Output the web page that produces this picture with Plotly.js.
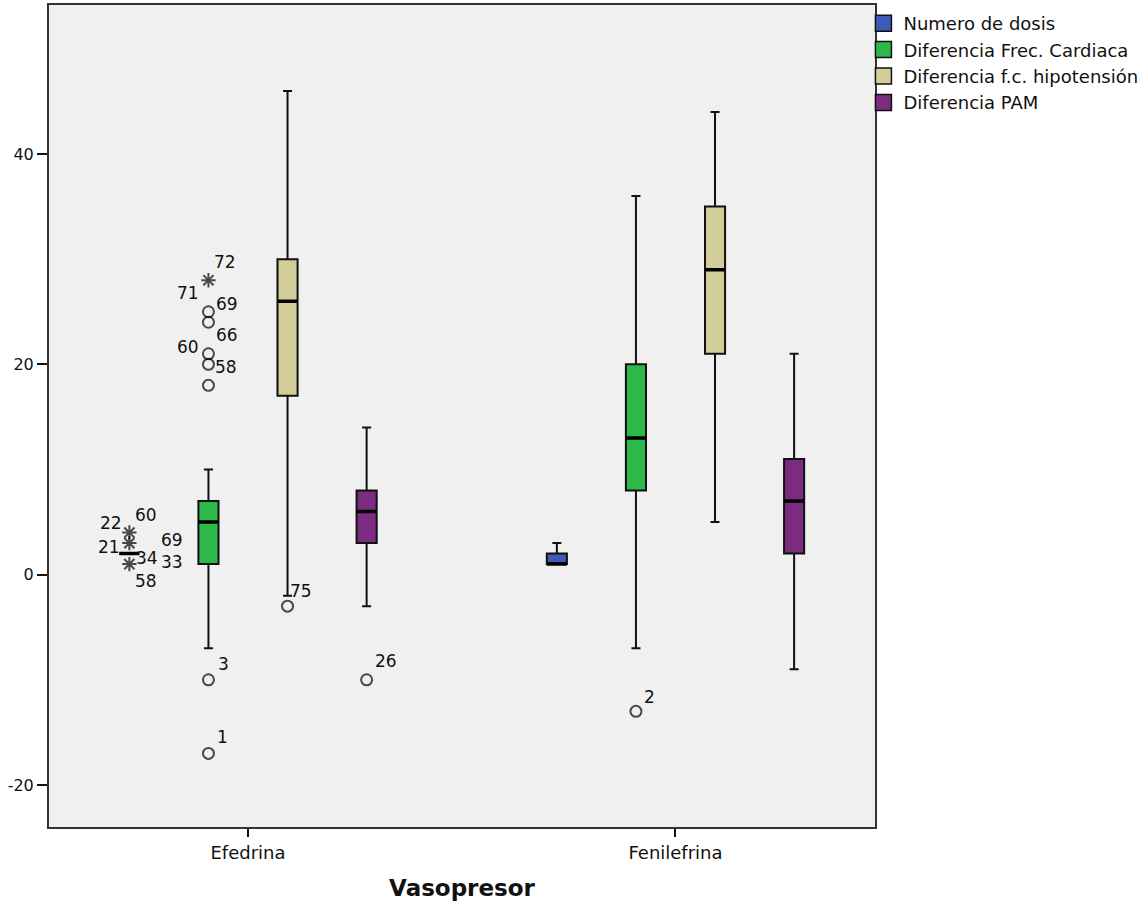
<!DOCTYPE html>
<html>
<head>
<meta charset="utf-8">
<script src="https://cdn.plot.ly/plotly-3.0.1.min.js"></script>
<style>html,body{margin:0;padding:0;background:#fff;}#chart{width:1148px;height:915px;}</style>
</head>
<body>
<div id="chart"></div>
<script>
// ---------- DATA ----------
const categories = ['Efedrina', 'Fenilefrina'];
const seriesNames = ['Numero de dosis', 'Diferencia Frec. Cardiaca', 'Diferencia f.c. hipotensión', 'Diferencia PAM'];
// per series: [Efedrina, Fenilefrina]
const lowerWhisker = [[2, 1], [-7, -7], [-2, 5], [-3, -9]];
const q1 =           [[2, 1], [1, 8], [17, 21], [3, 2]];
const median =       [[2, 1], [5, 13], [26, 29], [6, 7]];
const q3 =           [[2, 2], [7, 20], [30, 35], [8, 11]];
const upperWhisker = [[2, 3], [10, 36], [46, 44], [14, 21]];

// outliers (circle) and extremes (star)
const outlierSeries   = [0, 0, 0, 1, 1, 1, 1, 1, 1, 1, 1, 2, 3, 1];
const outlierCategory = [0, 0, 0, 0, 0, 0, 0, 0, 0, 0, 0, 0, 0, 1];
const outlierValue    = [4, 3, 1, 18, 20, 21, 24, 25, 28, -10, -17, -3, -10, -13];
const outlierExtreme  = [1, 1, 1, 0, 0, 0, 0, 0, 1, 0, 0, 0, 0, 0];

// case number labels and the outlier they belong to
const caseLabel        = ['22', '60', '21', '69', '34', '33', '58', '72', '71', '69', '66', '60', '58', '3', '1', '75', '26', '2'];
const caseLabelOutlier = [0, 0, 1, 1, 2, 2, 2, 8, 8, 7, 6, 5, 4, 9, 10, 11, 12, 13];

// y tick labels
const yTickValues = [-20, 0, 20, 40];
const yTickLabels = ['-20', '0', '20', '40'];

// ---------- STYLE ----------
const colors = ['#3C5BB4', '#2DB84B', '#D3CE98', '#7B2B80'];
const groupSpacing = 0.185;   // distance between boxes within a category (x units)
const boxWidth = 0.047;
const labelShift = [[-18,-10],[17,-18],[-20,4],[43,-3],[18,-6],[43,-2],[17,17],
                    [17,-18],[-20,13],[19,-8],[19,13],[-20,-7],[18,3],
                    [15,-16],[14,-16],[13,-15],[19,-19],[14,-14]];
const FONT = 'DejaVu Sans, Arial, sans-serif';
const ink = '#111111';

function pos(cat, s) { return cat + (s - 1.5) * groupSpacing; }

const traces = [];
// boxes
seriesNames.forEach((name, s) => {
  traces.push({
    type: 'box', name: name, showlegend: false,
    x: categories.map((c, i) => pos(i, s)),
    q1: q1[s], median: median[s], q3: q3[s],
    lowerfence: lowerWhisker[s], upperfence: upperWhisker[s],
    boxpoints: false, width: boxWidth, whiskerwidth: 0.45,
    fillcolor: colors[s], line: {color: ink, width: 2},
    hoverinfo: 'skip'
  });
});
// thick median lines
seriesNames.forEach((name, s) => {
  traces.push({
    type: 'box', name: name + ' mediana', showlegend: false,
    x: categories.map((c, i) => pos(i, s)),
    q1: median[s], median: median[s], q3: median[s],
    lowerfence: median[s], upperfence: median[s],
    boxpoints: false, width: boxWidth, whiskerwidth: 0,
    fillcolor: '#000', line: {color: '#000', width: 3.5},
    hoverinfo: 'skip'
  });
});
// outliers
const ox = outlierValue.map((v, k) => pos(outlierCategory[k], outlierSeries[k]));
traces.push({
  type: 'scatter', mode: 'markers', showlegend: false, cliponaxis: false,
  x: ox, y: outlierValue,
  marker: {
    symbol: outlierExtreme.map(e => e ? 'asterisk-open' : 'circle-open'),
    size: outlierExtreme.map(e => e ? 12 : 11),
    color: '#000', line: {color: '#000', width: 2}
  },
  hoverinfo: 'skip'
});
// legend entries
seriesNames.forEach((name, s) => {
  traces.push({
    type: 'scatter', mode: 'markers', name: name, x: [null], y: [null],
    marker: {symbol: 'square', size: 16, color: colors[s], line: {color: ink, width: 1.5}}
  });
});

const annotations = caseLabel.map((t, j) => {
  const k = caseLabelOutlier[j];
  return {
    xref: 'x', yref: 'y', x: ox[k], y: outlierValue[k], text: t, showarrow: false,
    xshift: labelShift[j][0], yshift: -labelShift[j][1],
    font: {family: FONT, size: 17, color: ink}
  };
});

const layout = {
  width: 1148, height: 915,
  margin: {l: 49, r: 273, t: 5, b: 88},
  paper_bgcolor: '#ffffff', plot_bgcolor: '#F0F0F0',
  font: {family: FONT, color: ink},
  boxmode: 'overlay',
  showlegend: true,
  legend: {x: 0.986, xanchor: 'left', y: 1, yanchor: 'top', bgcolor: 'rgba(0,0,0,0)',
           font: {family: FONT, size: 18, color: ink}, itemclick: false},
  xaxis: {
    type: 'linear', range: [-0.4655, 1.4667],
    tickmode: 'array', tickvals: categories.map((c, i) => i), ticktext: categories,
    ticks: 'outside', ticklen: 8, tickwidth: 2, tickcolor: ink,
    showgrid: false, zeroline: false, showline: true, mirror: true, linecolor: '#333', linewidth: 2,
    tickfont: {family: FONT, size: 18, color: ink},
    title: {text: 'Vasopresor', font: {family: FONT, size: 23, weight: 'bold', color: ink}, standoff: 18}
  },
  yaxis: {
    range: [-24, 54.17], tickmode: 'array', tickvals: yTickValues, ticktext: yTickLabels,
    ticks: 'outside', ticklen: 10, tickwidth: 2, tickcolor: ink,
    showgrid: false, zeroline: false, showline: true, mirror: true, linecolor: '#333', linewidth: 2,
    tickfont: {family: FONT, size: 16, color: ink}
  },
  annotations: annotations
};

Plotly.newPlot('chart', traces, layout, {displayModeBar: false, staticPlot: true});
</script>
</body>
</html>
